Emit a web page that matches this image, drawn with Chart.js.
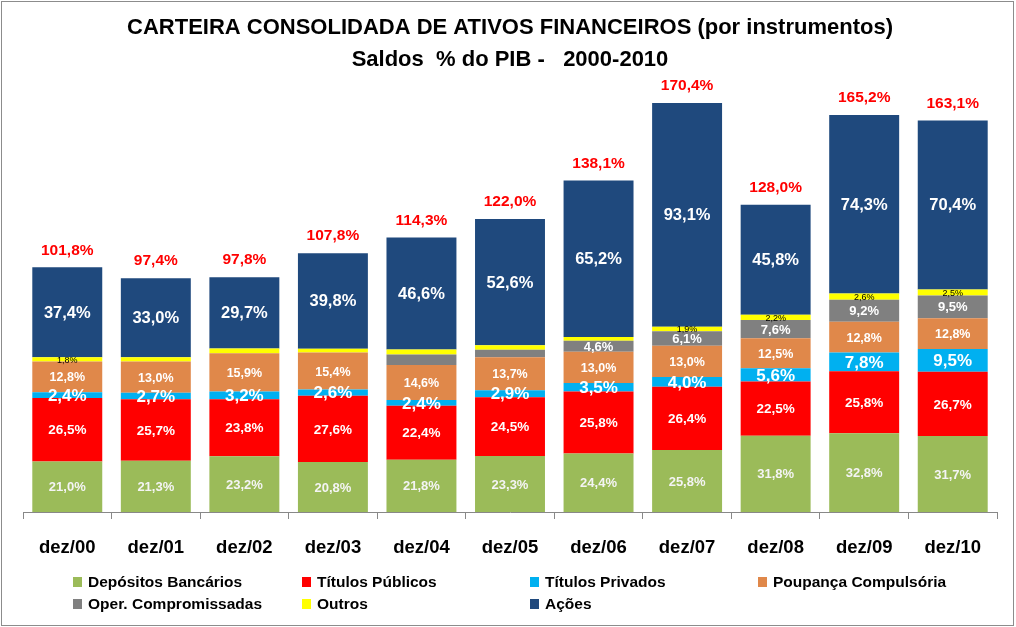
<!DOCTYPE html>
<html>
<head>
<meta charset="utf-8">
<script src="https://cdn.jsdelivr.net/npm/chart.js@4.4.1/dist/chart.umd.min.js"></script>
<style>
  body { margin: 0; background: #fff; }
  #wrap { width: 1016px; height: 627px; }
</style>
</head>
<body>
<div id="wrap"><canvas id="grafico" width="1016" height="627"></canvas></div>
<script>
// Dados (% do PIB)
const categorias = ['dez/00','dez/01','dez/02','dez/03','dez/04','dez/05','dez/06','dez/07','dez/08','dez/09','dez/10'];
const depositos   = [21.0, 21.3, 23.2, 20.8, 21.8, 23.3, 24.4, 25.8, 31.8, 32.8, 31.7];
const titPublicos = [26.5, 25.7, 23.8, 27.6, 22.4, 24.5, 25.8, 26.4, 22.5, 25.8, 26.7];
const titPrivados = [2.4, 2.7, 3.2, 2.6, 2.4, 2.9, 3.5, 4.0, 5.6, 7.8, 9.5];
const poupanca    = [12.8, 13.0, 15.9, 15.4, 14.6, 13.7, 13.0, 13.0, 12.5, 12.8, 12.8];
const operComp    = [0, 0, 0, 0, 4.4, 3.2, 4.6, 6.1, 7.6, 9.2, 9.5];
const outros      = [1.8, 1.7, 2.0, 1.6, 2.1, 1.8, 1.6, 1.9, 2.2, 2.6, 2.5];
const acoes       = [37.4, 33.0, 29.7, 39.8, 46.6, 52.6, 65.2, 93.1, 45.8, 74.3, 70.4];
const totais      = [101.8, 97.4, 97.8, 107.8, 114.3, 122.0, 138.1, 170.4, 128.0, 165.2, 163.1];

// quais rótulos pequenos aparecem no original
const mostraOutros = [true, false, false, false, false, false, false, true, true, true, true];
const mostraOper   = [false, false, false, false, false, false, true, true, true, true, true];

const FONTE = "'Liberation Sans', Arial, sans-serif";

const fmt = v => v.toFixed(1).replace('.', ',') + '%';

// estilo dos rótulos por série
const estiloRotulo = [
  { font: 'bold 13px ' + FONTE, color: '#f4f4f4' },
  { font: 'bold 13.5px ' + FONTE, color: '#ffffff' },
  { font: 'bold 17px ' + FONTE, color: '#ffffff' },
  { font: 'bold 12.5px ' + FONTE, color: '#ffffff' },
  { font: 'bold 13px ' + FONTE, color: '#ffffff', mostra: mostraOper },
  { font: '9px ' + FONTE, color: '#000000', mostra: mostraOutros },
  { font: 'bold 16.5px ' + FONTE, color: '#ffffff' }
];

const rotulosPlugin = {
  id: 'rotulos',
  afterDatasetsDraw(chart) {
    const ctx = chart.ctx;
    ctx.save();
    ctx.textAlign = 'center';
    ctx.textBaseline = 'middle';
    chart.data.datasets.forEach((ds, i) => {
      const meta = chart.getDatasetMeta(i);
      const st = estiloRotulo[i];
      meta.data.forEach((bar, j) => {
        const v = ds.data[j];
        if (!v) return;
        if (st.mostra && !st.mostra[j]) return;
        ctx.font = st.font;
        ctx.fillStyle = st.color;
        ctx.fillText(fmt(v), bar.x, (bar.y + bar.base) / 2 + 1);
      });
    });
    // totais acima das barras
    const topo = chart.getDatasetMeta(chart.data.datasets.length - 1);
    ctx.font = 'bold 15.5px ' + FONTE;
    ctx.fillStyle = '#ff0000';
    topo.data.forEach((bar, j) => {
      ctx.fillText(fmt(totais[j]), bar.x, bar.y - 17);
    });
    ctx.restore();
  }
};

// legenda em grade 4 colunas, como no Excel
const legendaPlugin = {
  id: 'legendaGrade',
  afterDraw(chart) {
    const ctx = chart.ctx;
    const colX = [73, 302, 530, 758];
    const linY = [582, 604];
    ctx.save();
    ctx.font = 'bold 15.5px ' + FONTE;
    ctx.textBaseline = 'middle';
    ctx.textAlign = 'left';
    chart.data.datasets.forEach((ds, i) => {
      const x = colX[i % 4];
      const y = linY[Math.floor(i / 4)];
      ctx.fillStyle = ds.backgroundColor;
      ctx.fillRect(x, y - 5, 9, 10);
      ctx.fillStyle = '#000';
      ctx.fillText(ds.label, x + 15, y + 1);
    });
    // moldura
    ctx.strokeStyle = '#8c8c8c';
    ctx.lineWidth = 1;
    ctx.strokeRect(1.5, 1.5, 1012, 624);
    ctx.restore();
  }
};

new Chart(document.getElementById('grafico'), {
  type: 'bar',
  data: {
    labels: categorias,
    datasets: [
      { label: 'Depósitos Bancários', data: depositos, backgroundColor: '#9bbb59' },
      { label: 'Títulos Públicos', data: titPublicos, backgroundColor: '#ff0000' },
      { label: 'Títulos Privados', data: titPrivados, backgroundColor: '#00b0f0' },
      { label: 'Poupança Compulsória', data: poupanca, backgroundColor: '#e0884a' },
      { label: 'Oper. Compromissadas', data: operComp, backgroundColor: '#808080' },
      { label: 'Outros', data: outros, backgroundColor: '#ffff00' },
      { label: 'Ações', data: acoes, backgroundColor: '#1f497d' }
    ]
  },
  options: {
    responsive: false,
    animation: false,
    layout: { padding: { left: 23, right: 19, top: 0, bottom: 65 } },
    datasets: { bar: { barPercentage: 0.79, categoryPercentage: 1.0, borderWidth: 0 } },
    plugins: {
      legend: { display: false },
      tooltip: { enabled: false },
      title: {
        display: true,
        text: ['CARTEIRA CONSOLIDADA DE ATIVOS FINANCEIROS (por instrumentos)', 'Saldos  % do PIB -   2000-2010'],
        color: '#000',
        font: { family: FONTE, size: 22, weight: 'bold', lineHeight: 1.45 },
        padding: { top: 12, bottom: 4 }
      }
    },
    scales: {
      x: {
        stacked: true,
        afterFit(scale) { scale.height = 50; },
        grid: { offset: true, drawOnChartArea: false, drawTicks: true, tickLength: 7, color: '#888' },
        border: { display: true, color: '#888' },
        ticks: { color: '#000', font: { family: FONTE, size: 18.5, weight: 'bold' }, padding: 18 }
      },
      y: {
        stacked: true,
        display: false,
        min: 0,
        max: 180
      }
    }
  },
  plugins: [rotulosPlugin, legendaPlugin]
});
</script>
</body>
</html>
